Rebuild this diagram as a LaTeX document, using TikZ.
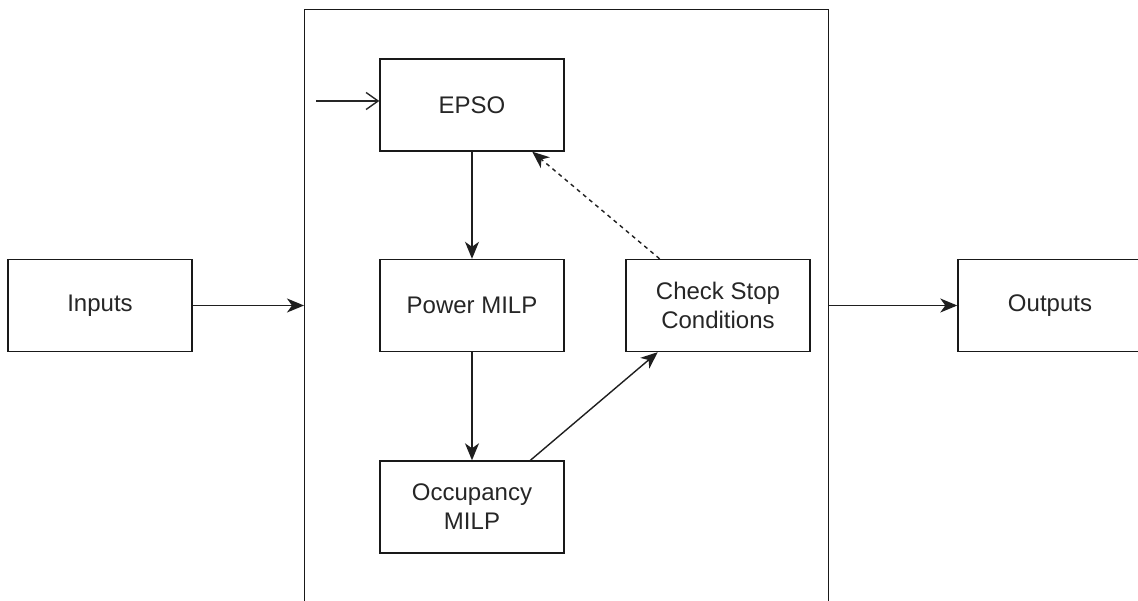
\documentclass[tikz,border=0pt]{standalone}
\usepackage{fontspec}
\setmainfont{Liberation Sans}
\usetikzlibrary{arrows.meta,calc}
\begin{document}
\begin{tikzpicture}[x=1pt,y=-1pt,
  block/.style={draw=black!90,line width=1.4pt,minimum width=184pt,minimum height=92pt,
    inner sep=0pt,align=center,text=black!85,
    font=\fontsize{24}{29}\selectfont},
  flow/.style={line width=1.4pt,draw=black!88,
    -{Stealth[length=17pt,width=14pt,inset=5pt]}},
  feedback/.style={flow,dash pattern=on 4pt off 4pt},
  entry/.style={line width=1.4pt,draw=black!85,
    -{Straight Barb[length=12pt,width=17pt,line width=1.4pt]}}]
\useasboundingbox (0,0) rectangle (1138,601);
\clip (0,0) rectangle (1138,601);
\fill[white] (0,0) rectangle (1138,601);

% enclosing optimisation loop (open at the bottom of the page)
\node[draw=black!90,line width=1.4pt,minimum width=524pt,minimum height=640pt,
  inner sep=0pt,anchor=north west] (frame) at (304,9) {};

\node[block] (inputs)  at (100,305.5) {Inputs};
\node[block] (outputs) at (1050,305.5) {Outputs};
\node[block] (epso)    at (472,105) {EPSO};
\node[block] (power)   at (472,305.5) {Power MILP};
\node[block] (occ)     at (472,507) {Occupancy\\MILP};
\node[block] (check)   at (718,305.5) {Check Stop\\Conditions};

\coordinate (seed) at (316,101);

\draw[flow] (inputs.east) -- (inputs.east -| frame.west);
\draw[flow] (outputs.west -| frame.east) -- (outputs.west);
\draw[entry] (seed) -- (seed -| epso.west);
\draw[flow] (epso.south) -- (power.north);
\draw[flow] (power.south) -- (occ.north);
\draw[flow] ($(occ.north)!0.63!(occ.north east)$) -- ($(check.south west)!0.35!(check.south)$);
\draw[feedback] ($(check.north west)!0.37!(check.north)$) -- ($(epso.south)!0.65!(epso.south east)$);
\end{tikzpicture}
\end{document}
